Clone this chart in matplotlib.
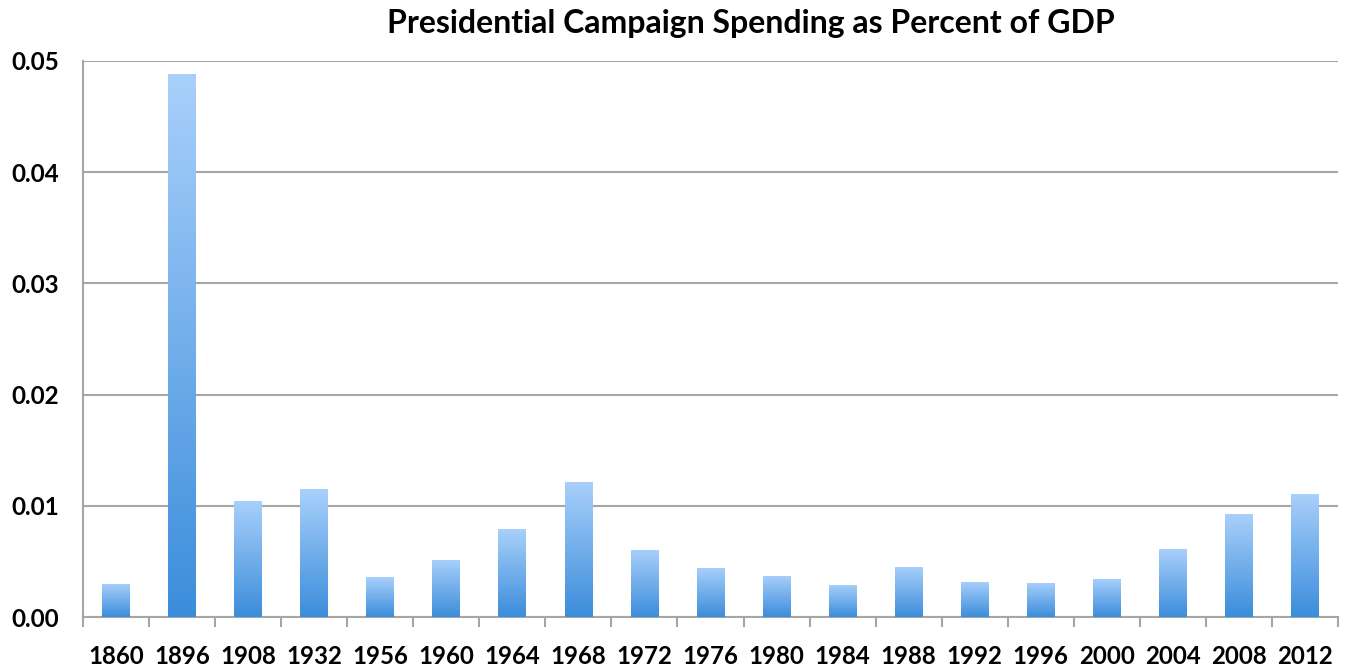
import matplotlib
matplotlib.use("Agg")
import matplotlib.pyplot as plt
import numpy as np
from matplotlib.colors import LinearSegmentedColormap

years = ["1860", "1896", "1908", "1932", "1956", "1960", "1964", "1968", "1972", "1976",
         "1980", "1984", "1988", "1992", "1996", "2000", "2004", "2008", "2012"]
pct_gdp = [0.00297, 0.0488, 0.01046, 0.01148, 0.00357, 0.00513, 0.00791, 0.01217, 0.00603, 0.00444,
           0.00369, 0.00288, 0.00452, 0.00315, 0.00308, 0.00342, 0.00609, 0.00923, 0.01109]

plt.rcParams['font.family'] = ['Lato', 'DejaVu Sans']
plt.rcParams['font.weight'] = 'bold'

fig = plt.figure(figsize=(13.45, 6.68), dpi=100)
ax = fig.add_axes([0.0617, 0.0763, 0.9331, 0.8324])

x = np.arange(len(years))
bars = ax.bar(x, pct_gdp, width=0.42, color="none", edgecolor="none", zorder=3)

# vertical gradient fill, light on top and darker at the base
cmap = LinearSegmentedColormap.from_list("bluegrad", ["#3b8ddb", "#a9d0fb"])
grad = np.linspace(0, 1, 256).reshape(-1, 1)
for b in bars:
    x0, y0 = b.get_x(), b.get_y()
    w, h = b.get_width(), b.get_height()
    im = ax.imshow(grad, cmap=cmap, origin="lower", aspect="auto",
                   extent=(x0, x0 + w, y0, y0 + h), zorder=3)
    im.set_clip_path(b)

ax.set_xlim(-0.5, len(years) - 0.5)
ax.set_ylim(0, 0.05)
ax.set_yticks([0, 0.01, 0.02, 0.03, 0.04, 0.05])
ax.set_yticklabels(["0.00", "0.01", "0.02", "0.03", "0.04", "0.05"])
ax.set_xticks(x)
ax.set_xticklabels(years)
ax.set_xticks(np.arange(-0.5, len(years)), minor=True)
ax.tick_params(axis="x", which="major", length=0, pad=20, labelsize=17.3)
ax.tick_params(axis="x", which="minor", length=7, width=1.5, color="#a6a6a6", direction="out")
ax.tick_params(axis="y", length=0, pad=17, labelsize=17.5)

ax.grid(axis="y", color="#a6a6a6", linewidth=1.5, zorder=0)
for s in ["top", "right"]:
    ax.spines[s].set_visible(False)
ax.spines["left"].set_color("#a6a6a6")
ax.spines["left"].set_linewidth(1.5)
ax.spines["bottom"].set_color("#a6a6a6")
ax.spines["bottom"].set_linewidth(1.5)

fig.text(0.558, 0.965, "Presidential Campaign Spending as Percent of GDP",
         ha="center", va="center", fontsize=23, fontweight="bold")

fig.savefig("out.png", dpi=100)
